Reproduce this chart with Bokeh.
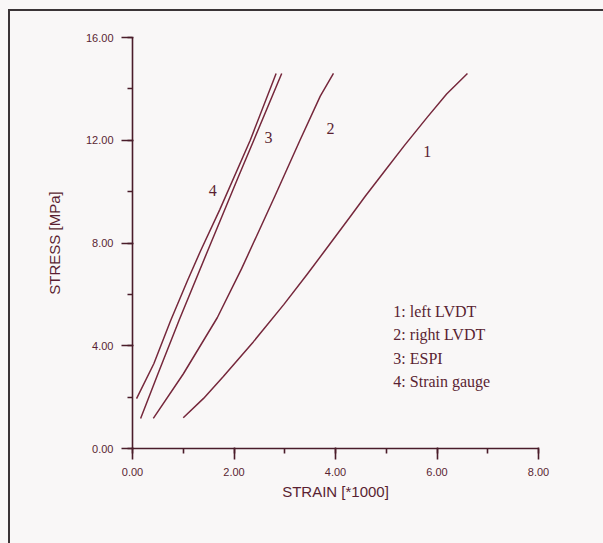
from bokeh.plotting import figure
from bokeh.models import SingleIntervalTicker, PrintfTickFormatter
from bokeh.core.properties import value
from bokeh.embed import file_html
from bokeh.resources import INLINE

# ---- data (strain *1000, stress MPa) ----
left_lvdt_strain = [1.00, 1.40, 1.79, 2.38, 2.98, 3.45, 3.76, 4.30, 4.59, 5.00, 5.36, 5.81, 6.19, 6.60]
left_lvdt_stress = [1.20, 1.95, 2.80, 4.15, 5.60, 6.80, 7.62, 9.05, 9.83, 10.88, 11.80, 12.90, 13.80, 14.60]

right_lvdt_strain = [0.41, 1.00, 1.67, 2.15, 2.80, 3.30, 3.70, 3.96]
right_lvdt_stress = [1.17, 2.90, 5.09, 7.00, 9.80, 12.00, 13.72, 14.60]

espi_strain = [0.16, 0.50, 0.92, 1.48, 2.07, 2.39, 2.94]
espi_stress = [1.17, 2.90, 5.00, 7.69, 10.50, 12.00, 14.60]

gauge_strain = [0.08, 0.42, 0.75, 1.08, 1.34, 1.72, 2.32, 2.83]
gauge_stress = [1.94, 3.30, 4.97, 6.52, 7.69, 9.30, 12.00, 14.60]

curve_ids = ["1", "2", "3", "4"]
curve_id_x = [5.81, 3.90, 2.68, 1.58]
curve_id_y = [11.55, 12.45, 12.10, 10.05]

legend_texts = ["1: left LVDT", "2: right LVDT", "3: ESPI", "4: Strain gauge"]
legend_x = [5.14, 5.14, 5.14, 5.14]
legend_y = [5.34, 4.43, 3.51, 2.60]

x_label = "STRAIN [*1000]"
y_label = "STRESS [MPa]"

# ---- styling ----
BG = "#f9f7f7"
LINE = "#76283c"
AXIS = "#4a1c2a"
TEXT = "#5a1f32"
FRAME = "#3a3436"

p = figure(width=593, height=533, x_range=(0, 8), y_range=(0, 16),
           output_backend="svg", toolbar_location=None,
           min_border_left=122, min_border_right=65,
           min_border_top=27, min_border_bottom=95)
p.margin = (10, 0, 0, 10)

p.background_fill_color = BG
p.border_fill_color = BG
p.outline_line_color = None
p.grid.grid_line_color = None

for xs, ys in [(left_lvdt_strain, left_lvdt_stress),
               (right_lvdt_strain, right_lvdt_stress),
               (espi_strain, espi_stress),
               (gauge_strain, gauge_stress)]:
    p.line(xs, ys, line_color=LINE, line_width=1.5, line_join="round")

p.text(x=curve_id_x, y=curve_id_y, text=curve_ids,
       text_font=value("Liberation Serif"), text_font_size="16px",
       text_color=TEXT, text_align="center", text_baseline="middle")

p.text(x=legend_x, y=legend_y, text=legend_texts,
       text_font=value("Liberation Serif"), text_font_size="16px",
       text_color=TEXT, text_align="left", text_baseline="middle")

p.xaxis.ticker = SingleIntervalTicker(interval=2, num_minor_ticks=2)
p.yaxis.ticker = SingleIntervalTicker(interval=4, num_minor_ticks=2)

for ax in (p.xaxis[0], p.yaxis[0]):
    ax.formatter = PrintfTickFormatter(format="%.2f")
    ax.axis_line_color = AXIS
    ax.axis_line_width = 1.6
    ax.major_tick_line_color = AXIS
    ax.major_tick_line_width = 1.6
    ax.minor_tick_line_color = AXIS
    ax.minor_tick_line_width = 1.6
    ax.major_tick_out = 11
    ax.major_tick_in = 1
    ax.minor_tick_out = 5
    ax.minor_tick_in = 0
    ax.major_label_text_font = "Liberation Sans"
    ax.major_label_text_font_size = "11px"
    ax.major_label_text_color = TEXT
    ax.axis_label_text_font = "Liberation Sans"
    ax.axis_label_text_font_size = "15px"
    ax.axis_label_text_font_style = "normal"
    ax.axis_label_text_color = TEXT

p.xaxis.axis_label = x_label
p.yaxis.axis_label = y_label
p.xaxis.major_label_standoff = 8
p.yaxis.major_label_standoff = 8
p.xaxis.axis_label_standoff = 4
p.yaxis.axis_label_standoff = 20

css = (
    "<style>html,body{margin:0;background:%s;overflow:hidden}"
    "body::before{content:'';position:fixed;left:8px;top:9px;width:595px;height:2px;"
    "background:%s;z-index:10}"
    "body::after{content:'';position:fixed;left:8px;top:9px;width:2px;height:534px;"
    "background:%s;z-index:10}</style></head>" % (BG, FRAME, FRAME)
)
html = file_html(p, INLINE)
html = html.replace("</head>", css, 1)
open("out.html", "w").write(html)
